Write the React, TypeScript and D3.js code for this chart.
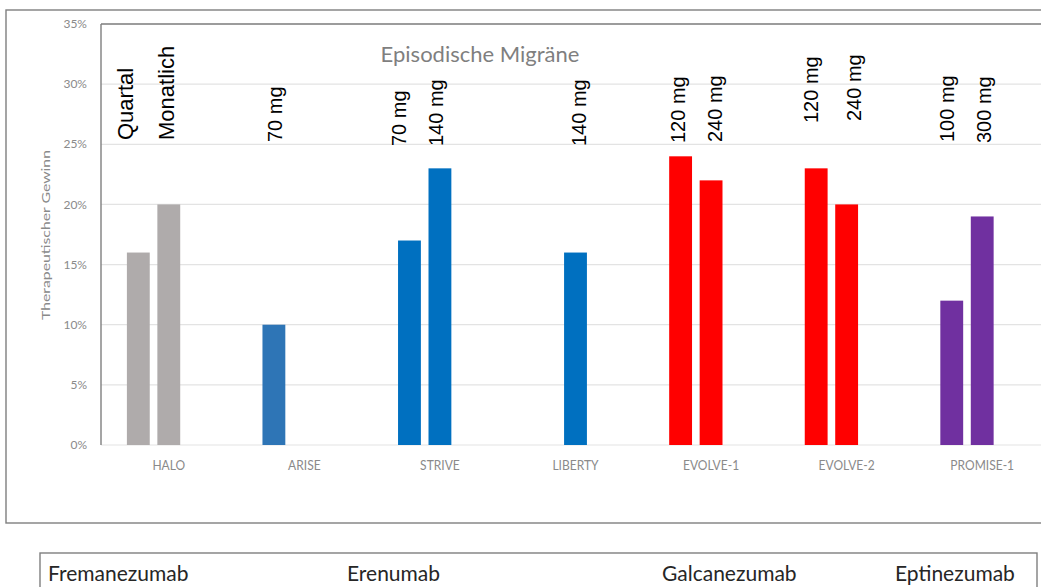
import React from "react";
import * as d3 from "d3";

// Studies on the x axis and the therapeutic gain of each dose arm
const studies = ["HALO", "ARISE", "STRIVE", "LIBERTY", "EVOLVE-1", "EVOLVE-2", "PROMISE-1"];
const firstDoseGain: (number | null)[] = [0.16, 0.10, 0.17, null, 0.24, 0.23, 0.12];
const secondDoseGain: (number | null)[] = [0.20, null, 0.23, 0.16, 0.22, 0.20, 0.19];
const firstDoseLabel: (string | null)[] = ["Quartal", "70 mg", "70 mg", null, "120 mg", "120 mg", "100 mg"];
const secondDoseLabel: (string | null)[] = ["Monatlich", null, "140 mg", "140 mg", "240 mg", "240 mg", "300 mg"];
const studyColors = ["#AFABAB", "#2E75B6", "#0070C0", "#0070C0", "#FF0000", "#FF0000", "#7030A0"];
const yTicks = [0, 0.05, 0.1, 0.15, 0.2, 0.25, 0.3, 0.35];
const drugs = ["Fremanezumab", "Erenumab", "Galcanezumab", "Eptinezumab"];
const chartTitle = "Episodische Migräne";
const yTitle = "Therapeutischer Gewinn";

// Text-box placement of the rotated dose labels: [dx from bar centre, bottom y, font size]
const firstLabelBox: [number, number, number][] = [
  [-12, 140, 22], [2.5, 142, 20], [-9, 146, 20], [0, 0, 20], [-1.5, 143, 20], [-4.5, 123, 20], [-4, 142, 20],
];
const secondLabelBox: [number, number, number][] = [
  [-1, 140, 22], [0, 0, 20], [-3, 146, 20], [4, 146, 20], [5, 142, 20], [8.4, 121, 20], [3, 143, 20],
];
// Legend text x positions
const drugX = [48, 347, 662, 895];

const W = 1041;
const H = 587;
const plot = { left: 101, top: 24, bottom: 445, right: 1050 };

export default function App() {
  const x = d3.scaleBand<string>().domain(studies).range([plot.left, plot.right]);
  const slot = d3
    .scaleBand<number>()
    .domain([0, 1, 2])
    .range([0, x.bandwidth()])
    .paddingInner(0.25)
    .paddingOuter(0.85);
  const y = d3.scaleLinear().domain([0, 0.35]).range([plot.bottom, plot.top]);
  const pct = d3.format(".0%");

  type Bar = { study: string; slotIdx: number; value: number; color: string; label: string | null; box: [number, number, number] };
  const bars: Bar[] = [];
  studies.forEach((s, i) => {
    if (firstDoseGain[i] != null)
      bars.push({ study: s, slotIdx: 0, value: firstDoseGain[i] as number, color: studyColors[i], label: firstDoseLabel[i], box: firstLabelBox[i] });
    if (secondDoseGain[i] != null)
      bars.push({ study: s, slotIdx: 1, value: secondDoseGain[i] as number, color: studyColors[i], label: secondDoseLabel[i], box: secondLabelBox[i] });
  });

  const frame = "#7f7f7f";
  const axisGray = "#8a8a8a";

  return (
    <svg width={W} height={H} style={{ position: "absolute", left: 0, top: 0, background: "#fff" }}>
      {/* chart area frame */}
      <rect x={6} y={10} width={1200} height={513} fill="none" stroke={frame} strokeWidth={1.4} />

      {/* gridlines */}
      {yTicks.map((t) => (
        <line key={t} x1={plot.left} x2={W + 20} y1={y(t)} y2={y(t)} stroke="#e3e3e3" strokeWidth={1.2} />
      ))}

      {/* plot area frame: left and top */}
      <line x1={plot.left} x2={plot.left} y1={plot.top} y2={plot.bottom} stroke={frame} strokeWidth={1.4} />
      <line x1={plot.left} x2={W + 20} y1={plot.top} y2={plot.top} stroke={frame} strokeWidth={1.4} />

      {/* y tick labels */}
      {yTicks.map((t) => (
        <text
          key={t}
          x={87}
          y={y(t)}
          dy="0.35em"
          textAnchor="end"
          fontFamily="Lato, 'Open Sans', sans-serif"
          fontSize={12}
          fill={axisGray}
        >
          {pct(t)}
        </text>
      ))}

      {/* y axis title */}
      <text
        transform={`translate(46,235) rotate(-90)`}
        textAnchor="middle"
        dy="0.35em"
        fontFamily="Lato, 'Open Sans', sans-serif"
        fontSize={12}
        fill={axisGray}
        textLength={170}
        lengthAdjust="spacingAndGlyphs"
      >
        {yTitle}
      </text>

      {/* bars */}
      {bars.map((b) => (
        <rect
          key={b.study + b.slotIdx}
          x={(x(b.study) as number) + (slot(b.slotIdx) as number)}
          y={y(b.value)}
          width={slot.bandwidth()}
          height={y(0) - y(b.value)}
          fill={b.color}
        />
      ))}

      {/* dose labels */}
      {bars
        .filter((b) => b.label)
        .map((b) => {
          const cx = (x(b.study) as number) + (slot(b.slotIdx) as number) + slot.bandwidth() / 2 + b.box[0];
          return (
            <text
              key={"l" + b.study + b.slotIdx}
              transform={`translate(${cx},${b.box[1]}) rotate(-90)`}
              dy="0.3em"
              textAnchor="start"
              fontFamily="'Liberation Sans', Arial, sans-serif"
              fontSize={b.box[2]}
              fill="#000"
            >
              {b.label}
            </text>
          );
        })}

      {/* category labels */}
      {studies.map((s) => (
        <g key={s} transform={`translate(${(x(s) as number) + x.bandwidth() / 2},${465}) scale(0.86,1)`}>
          <text
            textAnchor="middle"
            dy="0.35em"
            fontFamily="Lato, 'Open Sans', sans-serif"
            fontSize={14}
            fill={axisGray}
          >
            {s}
          </text>
        </g>
      ))}

      {/* chart title */}
      <text x={480} y={62} textAnchor="middle" fontFamily="Lato, 'Open Sans', sans-serif" fontSize={22} fill="#7f7f7f">
        {chartTitle}
      </text>

      {/* drug legend box */}
      <rect x={40} y={553} width={997} height={60} fill="none" stroke={frame} strokeWidth={1.4} />
      {drugs.map((d, i) => (
        <text key={d} x={drugX[i]} y={581} fontFamily="Lato, 'Open Sans', sans-serif" fontSize={21} fill="#262626">
          {d}
        </text>
      ))}
    </svg>
  );
}
